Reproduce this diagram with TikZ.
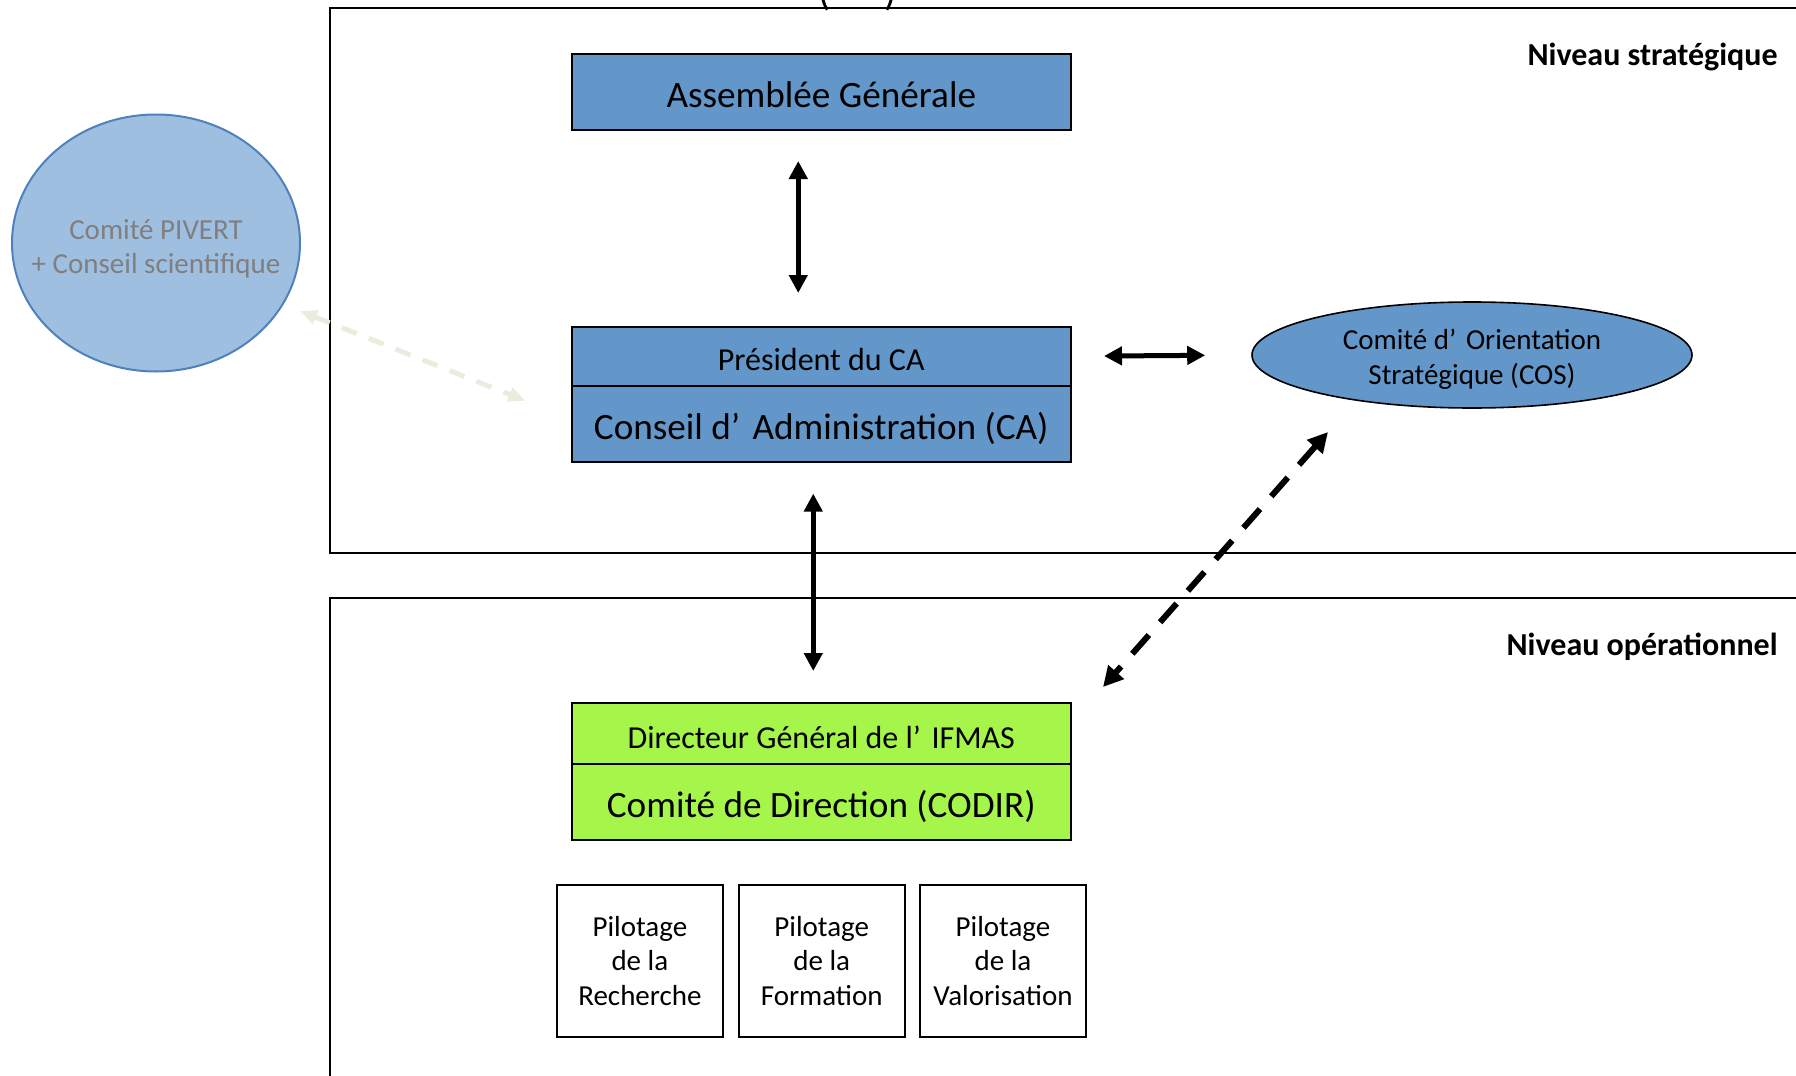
\documentclass[tikz,border=0pt]{standalone}
\usepackage{fontspec}
\setmainfont{Carlito}
\usetikzlibrary{arrows.meta,shapes.geometric,calc}
\definecolor{boxblue}{RGB}{99,150,201}
\definecolor{boxgreen}{RGB}{166,245,74}
\definecolor{pivfill}{RGB}{158,191,224}
\definecolor{pivline}{RGB}{79,129,189}
\definecolor{pivtext}{RGB}{127,127,127}
\definecolor{faint}{RGB}{236,236,222}
\newcommand\bigtxt{\fontsize{18.6}{22}\selectfont}
\newcommand\midtxt{\fontsize{16}{19}\selectfont}
\newcommand\smalltxt{\fontsize{14.5}{17.2}\selectfont}
\newcommand\lbltxt{\fontsize{16}{19}\selectfont\bfseries}
\begin{document}
\begin{tikzpicture}[x=0.5pt,y=-0.5pt,
  frame/.style={line width=1pt},
  bluebox/.style={draw=black, line width=1pt, fill=boxblue, inner sep=0pt, minimum width=249.75pt},
  greenbox/.style={draw=black, line width=1pt, fill=boxgreen, inner sep=0pt, minimum width=249.75pt},
  bigline/.style={font=\bigtxt, text height=15.6pt, text depth=0pt, minimum height=37.8pt},
  midline/.style={font=\midtxt, text height=14.5pt, text depth=0pt},
  pilbox/.style={draw=black, line width=1pt, inner sep=0pt, minimum width=83.25pt, minimum height=75.85pt, align=center, font=\smalltxt},
  twoway/.style={line width=2.5pt, >={Triangle[length=9pt,width=9pt]}, <->},
  dashway/.style={line width=3pt, dash pattern=on 12.5pt off 8.5pt, >={Triangle[length=10pt,width=10pt]}, <->},
  faintway/.style={draw=faint, line width=2.5pt, dash pattern=on 8pt off 6.5pt, >={Triangle[length=8.5pt,width=7pt]}, <->},
  levellabel/.style={anchor=base east, font=\lbltxt, inner sep=0pt}
]
\useasboundingbox (0,0) rectangle (1796,1076);

% frames
\draw[frame] (1796,8) -- (330,8) -- (330,552.5) -- (1796,552.5);
\draw[frame] (1796,597.7) -- (330,597.7) -- (330,1076);

% cut-off text at the top
\node[anchor=base, inner sep=0pt, font=\fontsize{20}{24}\selectfont] (topparen) at (858,5) {(\hspace{27pt})};

% labels
\node[levellabel] (strat) at (1778,65) {Niveau stratégique};
\node[levellabel] (oper) at (1778,655) {Niveau opérationnel};

% strategic boxes
\node[bluebox, bigline, minimum height=37.75pt] (ag) at (821.25,91.75) {Assemblée Générale};
\node[bluebox, midline, minimum height=29.75pt] (pres) at (821.25,356.25) {Président du CA};
\node[bluebox, bigline] (ca) at (821.25,423.8) {Conseil d’\,\,Administration (CA)};

% ellipses
\node[ellipse, draw=black, line width=0.8pt, fill=boxblue, inner sep=0pt,
      minimum width=220pt, minimum height=53pt, align=center,
      font=\fontsize{14.5}{17.7}\selectfont] (cos) at (1472,355)
      {\makebox[0pt]{\rule{0pt}{14.4pt}Comité d’\,\,Orientation}\\\makebox[0pt]{Stratégique (COS)}};
\node[ellipse, draw=pivline, line width=1pt, fill=pivfill, inner sep=0pt,
      minimum width=144pt, minimum height=128.5pt, align=center,
      text=pivtext, font=\smalltxt] (piv) at (156,243)
      {\makebox[0pt]{\rule{0pt}{15.6pt}Comité PIVERT}\\\makebox[0pt]{+ Conseil scientifique}};

% operational boxes
\node[greenbox, midline, minimum height=30.5pt] (dir) at (821.25,733.5) {Directeur Général de l’\,\,IFMAS};
\node[greenbox, bigline] (codir) at (821.25,801.8) {Comité de Direction (CODIR)};

\node[pilbox] (pil1) at (639.9,960.85) {Pilotage\\de la\\Recherche};
\node[pilbox] (pil2) at (821.75,960.85) {Pilotage\\de la\\Formation};
\node[pilbox] (pil3) at (1003,960.85) {Pilotage\\de la\\Valorisation};

% connectors
\draw[twoway, shorten <=15.25pt, shorten >=16.25pt]
  ($(ag.south)+(-23,0)$) -- ($(pres.north)+(-23,0)$);
\draw[twoway, shorten <=16pt, shorten >=23pt]
  (pres.east) -- (cos.west);
\draw[twoway, shorten <=15.5pt, shorten >=15.5pt]
  ($(ca.south)+(-8,0)$) -- ($(dir.north)+(-8,0)$);

\coordinate (cosend) at ($(cos.center)+(-144,77)$);
\coordinate (dirend) at ($(dir.north east)+(31,-15)$);
\draw[dashway] (cosend) -- (dirend);

\coordinate (pivend) at ($(piv.center)+(144,68)$);
\coordinate (caend) at ($(ca.west)+(-45,-23)$);
\draw[faintway] (pivend) -- (caend);
\end{tikzpicture}
\end{document}
